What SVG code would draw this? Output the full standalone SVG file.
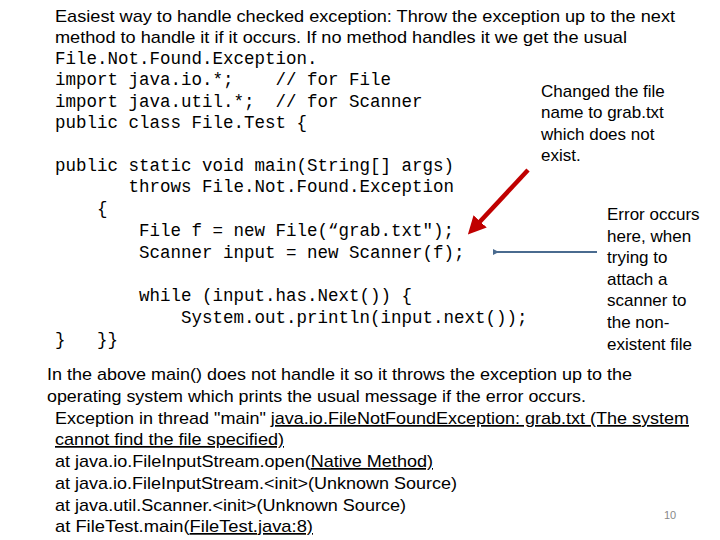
<svg xmlns="http://www.w3.org/2000/svg" width="720" height="540" viewBox="0 0 720 540">
<defs>
<style>
.s{font-family:"Liberation Sans",Arial,sans-serif;font-size:17px;fill:#000}
.m{font-family:"Liberation Mono","Courier New",monospace;font-size:17.5px;fill:#000;white-space:pre}
.u{text-decoration:underline}
</style>
<marker id="ra" markerWidth="4" markerHeight="4" refX="2" refY="2" orient="auto" markerUnits="strokeWidth"><path d="M0,0 L4,2 L0,4 z" fill="#c00000"/></marker>
<marker id="bd" markerWidth="3" markerHeight="3" refX="1.5" refY="1.5" orient="auto" markerUnits="strokeWidth"><path d="M0,1.5 L3,0 L3,3 z" fill="#4a6b8f"/></marker>
</defs>
<rect width="720" height="540" fill="#fff"/>
<g id="header">
<text class="s" x="55" y="22" textLength="620" lengthAdjust="spacingAndGlyphs">Easiest way to handle checked exception:  Throw the exception up to the next</text>
<text class="s" x="55" y="43" textLength="572" lengthAdjust="spacingAndGlyphs">method to handle it if it occurs.  If no method handles it we get the usual</text>
</g>
<g id="code">
<text class="m" x="55" y="64">File.Not.Found.Exception.</text>
<text class="m" x="55" y="85">import java.io.*;    // for File</text>
<text class="m" x="55" y="107">import java.util.*;  // for Scanner</text>
<text class="m" x="55" y="128">public class File.Test {</text>
<text class="m" x="55" y="171">public static void main(String[] args)</text>
<text class="m" x="55" y="192">       throws File.Not.Found.Exception</text>
<text class="m" x="55" y="214">    {</text>
<text class="m" x="55" y="236">        File f = new File(“grab.txt");</text>
<text class="m" x="55" y="258">        Scanner input = new Scanner(f);</text>
<text class="m" x="55" y="301">        while (input.has.Next()) {</text>
<text class="m" x="55" y="323">            System.out.println(input.next());</text>
<text class="m" x="55" y="345">}   }}</text>
</g>
<g id="note1">
<text class="s" x="541" y="97">Changed the file</text>
<text class="s" x="541" y="118">name to grab.txt</text>
<text class="s" x="541" y="140">which does not</text>
<text class="s" x="541" y="161">exist.</text>
</g>
<g id="note2">
<text class="s" x="607" y="220">Error occurs</text>
<text class="s" x="607" y="242">here, when</text>
<text class="s" x="607" y="263">trying to</text>
<text class="s" x="607" y="285">attach a</text>
<text class="s" x="607" y="306">scanner to</text>
<text class="s" x="607" y="328">the non-</text>
<text class="s" x="607" y="350">existent file</text>
</g>
<g id="connectors">
<line x1="528" y1="170" x2="474" y2="228" stroke="#c00000" stroke-width="4.5" marker-end="url(#ra)"/>
<line x1="597" y1="252" x2="496" y2="252" stroke="#4a6b8f" stroke-width="2" marker-end="url(#bd)"/>
</g>
<g id="footer">
<text class="s" x="47" y="380" textLength="585" lengthAdjust="spacingAndGlyphs">In the above main() does not handle it so it throws the exception up to the</text>
<text class="s" x="47" y="402" textLength="539" lengthAdjust="spacingAndGlyphs">operating system which prints the usual message if the error occurs.</text>
<text class="s" x="55" y="424" textLength="634" lengthAdjust="spacingAndGlyphs">Exception in thread "main" <tspan class="u">java.io.FileNotFoundException: grab.txt (The system</tspan></text>
<text class="s u" x="55" y="445" textLength="229" lengthAdjust="spacingAndGlyphs">cannot find the file specified)</text>
<text class="s" x="55" y="467" textLength="378" lengthAdjust="spacingAndGlyphs">at java.io.FileInputStream.open(<tspan class="u">Native Method)</tspan></text>
<text class="s" x="55" y="489" textLength="402" lengthAdjust="spacingAndGlyphs">at java.io.FileInputStream.&lt;init&gt;(Unknown Source)</text>
<text class="s" x="55" y="511" textLength="351" lengthAdjust="spacingAndGlyphs">at java.util.Scanner.&lt;init&gt;(Unknown Source)</text>
<text class="s" x="55" y="532" textLength="258" lengthAdjust="spacingAndGlyphs">at FileTest.main(<tspan class="u">FileTest.java:8)</tspan></text>
<text x="664" y="519" style="font-family:'Liberation Sans',sans-serif;font-size:11px;fill:#888">10</text>
</g>
</svg>
